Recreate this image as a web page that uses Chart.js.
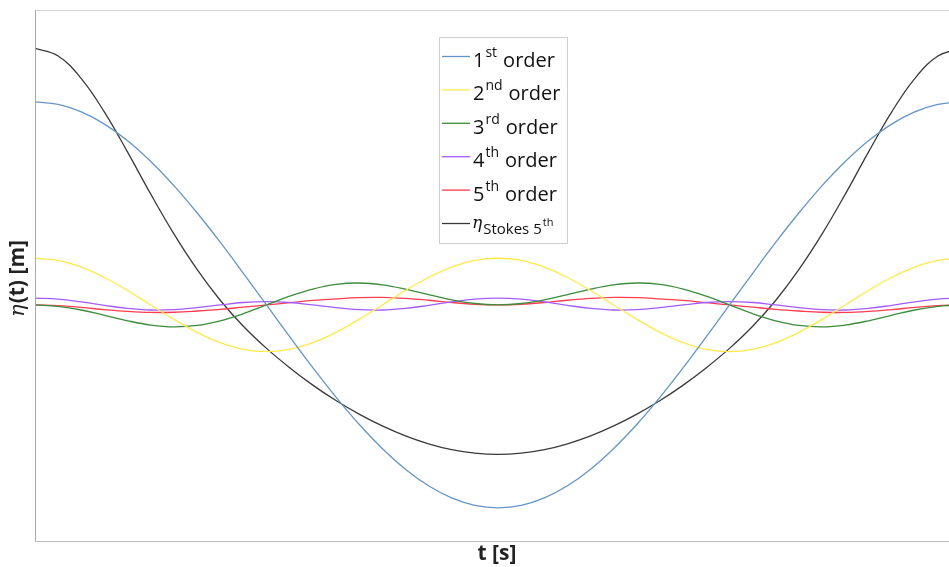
<!DOCTYPE html>
<html>
<head>
<meta charset="utf-8">
<title>Stokes 5th order wave components</title>
<script src="https://cdn.jsdelivr.net/npm/chart.js@4"></script>
<style>
  html, body { margin: 0; padding: 0; background: #fff; }
  #wrap { width: 949px; height: 567px; }
</style>
</head>
<body>
<div id="wrap"><canvas id="waveChart"></canvas></div>
<script>
// time over one wave period (t / T), step 0.025
const tValues = [0, 0.025, 0.05, 0.075, 0.1, 0.125, 0.15, 0.175, 0.2, 0.225, 0.25,
                 0.275, 0.3, 0.325, 0.35, 0.375, 0.4, 0.425, 0.45, 0.475, 0.5,
                 0.525, 0.55, 0.575, 0.6, 0.625, 0.65, 0.675, 0.7, 0.725, 0.75,
                 0.775, 0.8, 0.825, 0.85, 0.875, 0.9, 0.925, 0.95, 0.975, 1];

// surface elevation contributions of each order
const firstOrder = [1, 0.988, 0.951, 0.891, 0.809, 0.707, 0.588, 0.454, 0.309, 0.156, 0,
                    -0.156, -0.309, -0.454, -0.588, -0.707, -0.809, -0.891, -0.951, -0.988, -1,
                    -0.988, -0.951, -0.891, -0.809, -0.707, -0.588, -0.454, -0.309, -0.156, 0,
                    0.156, 0.309, 0.454, 0.588, 0.707, 0.809, 0.891, 0.951, 0.988, 1];
const secondOrder = [0.23, 0.219, 0.186, 0.135, 0.071, 0, -0.071, -0.135, -0.186, -0.219, -0.23,
                     -0.219, -0.186, -0.135, -0.071, 0, 0.071, 0.135, 0.186, 0.219, 0.23,
                     0.219, 0.186, 0.135, 0.071, 0, -0.071, -0.135, -0.186, -0.219, -0.23,
                     -0.219, -0.186, -0.135, -0.071, 0, 0.071, 0.135, 0.186, 0.219, 0.23];
const thirdOrder = [0, -0.007, -0.025, -0.051, -0.078, -0.099, -0.108, -0.101, -0.078, -0.043, 0,
                    0.043, 0.078, 0.101, 0.108, 0.099, 0.078, 0.051, 0.025, 0.007, 0,
                    0.007, 0.025, 0.051, 0.078, 0.099, 0.108, 0.101, 0.078, 0.043, 0,
                    -0.043, -0.078, -0.101, -0.108, -0.099, -0.078, -0.051, -0.025, -0.007, 0];
const fourthOrder = [0.034, 0.029, 0.015, -0.002, -0.017, -0.025, -0.023, -0.013, 0, 0.012, 0.016,
                     0.012, 0, -0.013, -0.023, -0.025, -0.017, -0.002, 0.015, 0.029, 0.034,
                     0.029, 0.015, -0.002, -0.017, -0.025, -0.023, -0.013, 0, 0.012, 0.016,
                     0.012, 0, -0.013, -0.023, -0.025, -0.017, -0.002, 0.015, 0.029, 0.034];
const fifthOrder = [0, -0.003, -0.012, -0.023, -0.032, -0.037, -0.036, -0.030, -0.022, -0.011, 0,
                    0.011, 0.022, 0.030, 0.036, 0.037, 0.032, 0.023, 0.012, 0.003, 0,
                    0.003, 0.012, 0.023, 0.032, 0.037, 0.036, 0.030, 0.022, 0.011, 0,
                    -0.011, -0.022, -0.030, -0.036, -0.037, -0.032, -0.023, -0.012, -0.003, 0];
const stokesFifth = [1.264, 1.226, 1.115, 0.950, 0.753, 0.546, 0.350, 0.175, 0.023, -0.105, -0.214,
                     -0.309, -0.395, -0.471, -0.538, -0.596, -0.645, -0.684, -0.713, -0.730, -0.736,
                     -0.730, -0.713, -0.684, -0.645, -0.596, -0.538, -0.471, -0.395, -0.309, -0.214,
                     -0.105, 0.023, 0.175, 0.350, 0.546, 0.753, 0.950, 1.115, 1.226, 1.264];

// legend text: number + superscript + "order", then the total
const orderNumbers = ['1', '2', '3', '4', '5'];
const orderSuffixes = ['st', 'nd', 'rd', 'th', 'th'];
const orderWord = 'order';
const totalLabel = { symbol: '\u03b7', sub: 'Stokes 5', sup: 'th' };

const xTitle = 't [s]';
const yTitle = { symbol: '\u03b7', rest: '(t) [m]' };

const colors = ['#6495c8', '#ffe94a', '#3c8c3c', '#a35cff', '#ff3b4e', '#3a3a3a'];
const seriesList = [firstOrder, secondOrder, thirdOrder, fourthOrder, fifthOrder, stokesFifth];

function toPoints(values) {
    return values.map((v, i) => ({ x: tValues[i], y: v }));
}

const FONT = '"Open Sans", "Noto Sans", sans-serif';

// frame, axis titles and the legend with super/subscripts
const decorations = {
    id: 'decorations',
    afterDraw(chart) {
        const ctx = chart.ctx;
        const area = chart.chartArea;
        ctx.save();

        // plot frame (top, left, bottom)
        ctx.lineWidth = 1;
        ctx.strokeStyle = '#d2d2d2';
        ctx.beginPath();
        ctx.moveTo(area.left, area.top + 0.5);
        ctx.lineTo(area.right, area.top + 0.5);
        ctx.stroke();
        ctx.strokeStyle = '#a9a9a9';
        ctx.beginPath();
        ctx.moveTo(area.left + 0.5, area.top);
        ctx.lineTo(area.left + 0.5, area.bottom);
        ctx.stroke();
        ctx.strokeStyle = '#bdbdbd';
        ctx.beginPath();
        ctx.moveTo(area.left, area.bottom + 0.5);
        ctx.lineTo(area.right, area.bottom + 0.5);
        ctx.stroke();

        // x axis title
        ctx.fillStyle = '#222';
        ctx.font = 'bold 21px ' + FONT;
        ctx.textAlign = 'center';
        ctx.textBaseline = 'alphabetic';
        ctx.fillText(xTitle, 497, 560);

        // y axis title, rotated
        ctx.save();
        ctx.translate(24, 279);
        ctx.rotate(-Math.PI / 2);
        ctx.textAlign = 'left';
        ctx.font = 'italic 21px "DejaVu Serif", serif';
        const wSym = ctx.measureText(yTitle.symbol).width;
        ctx.font = 'bold 21px ' + FONT;
        const wRest = ctx.measureText(yTitle.rest).width;
        const x0 = -(wSym + wRest) / 2;
        ctx.font = 'italic 21px "DejaVu Serif", serif';
        ctx.fillText(yTitle.symbol, x0, 0);
        ctx.font = 'bold 21px ' + FONT;
        ctx.fillText(yTitle.rest, x0 + wSym + 1, 0);
        ctx.restore();

        // legend box
        const box = { x: 439, y: 37, w: 128, h: 206 };
        ctx.fillStyle = '#fff';
        ctx.fillRect(box.x, box.y, box.w, box.h);
        ctx.strokeStyle = '#cfcfcf';
        ctx.strokeRect(box.x + 0.5, box.y + 0.5, box.w, box.h);

        const rowStep = 33.4;
        const lineX0 = 442, lineX1 = 470, textX = 473;
        ctx.textAlign = 'left';
        ctx.textBaseline = 'alphabetic';
        for (let i = 0; i < 6; i++) {
            const rowY = 56 + i * rowStep;
            ctx.strokeStyle = colors[i];
            ctx.lineWidth = 1.3;
            ctx.beginPath();
            ctx.moveTo(lineX0, rowY + 0.5);
            ctx.lineTo(lineX1, rowY + 0.5);
            ctx.stroke();

            ctx.fillStyle = '#111';
            let x = textX;
            if (i < 5) {
                ctx.font = '20px ' + FONT;
                ctx.fillText(orderNumbers[i], x, rowY + 11);
                x += ctx.measureText(orderNumbers[i]).width + 1;
                ctx.font = '14px ' + FONT;
                ctx.fillText(orderSuffixes[i], x, rowY + 1);
                x += ctx.measureText(orderSuffixes[i]).width + 6;
                ctx.font = '20px ' + FONT;
                ctx.fillText(orderWord, x, rowY + 11);
            } else {
                ctx.font = 'italic 17px "DejaVu Serif", serif';
                ctx.fillText(totalLabel.symbol, x - 1, rowY + 5);
                x += ctx.measureText(totalLabel.symbol).width;
                ctx.font = '15px ' + FONT;
                ctx.fillText(totalLabel.sub, x, rowY + 11);
                x += ctx.measureText(totalLabel.sub).width + 1;
                ctx.font = '11px ' + FONT;
                ctx.fillText(totalLabel.sup, x, rowY + 3);
            }
        }
        ctx.restore();
    }
};

const ctx = document.getElementById('waveChart').getContext('2d');
new Chart(ctx, {
    type: 'line',
    data: {
        datasets: seriesList.map((values, i) => ({
            label: 'series ' + (i + 1),
            data: toPoints(values),
            borderColor: colors[i],
            borderWidth: 1.3,
            pointRadius: 0,
            fill: false,
            tension: 0.4
        }))
    },
    options: {
        responsive: true,
        maintainAspectRatio: false,
        animation: false,
        layout: { padding: { left: 35, top: 10, right: 0, bottom: 26 } },
        scales: {
            x: { type: 'linear', min: 0, max: 0.987, display: false },
            y: { min: -1.163, max: 1.453, display: false }
        },
        plugins: {
            legend: { display: false },
            tooltip: { enabled: false }
        }
    },
    plugins: [decorations]
});
</script>
</body>
</html>
